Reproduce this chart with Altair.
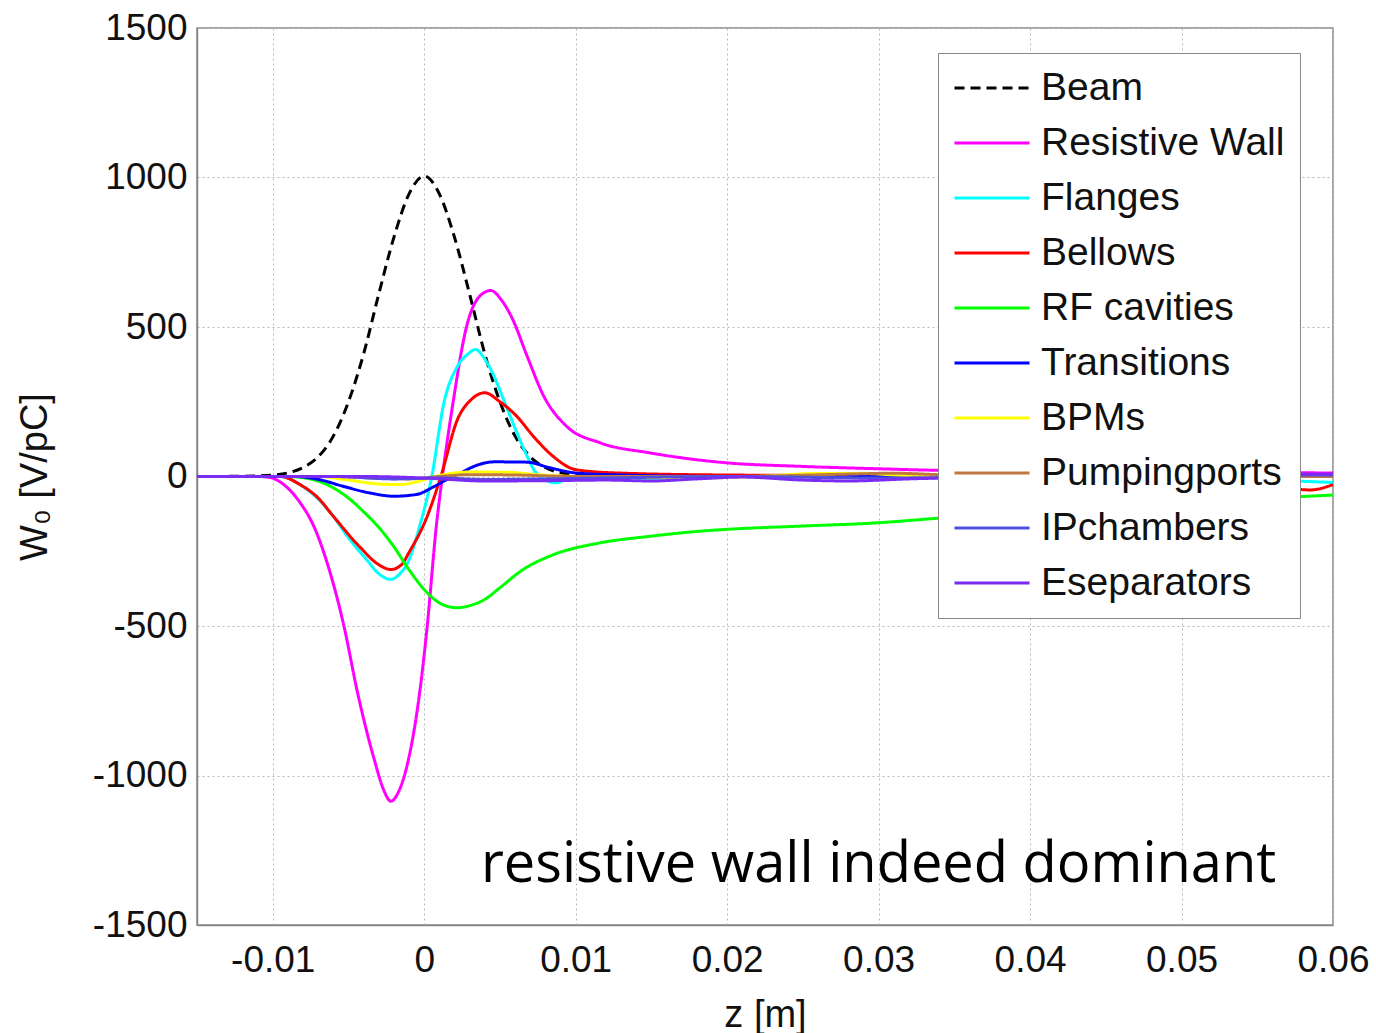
import altair as alt
import pandas as pd

series = ["Beam", "Resistive Wall", "Flanges", "Bellows", "RF cavities",
          "Transitions", "BPMs", "Pumpingports", "IPchambers", "Eseparators"]
colors = ["#000000", "#ff00ff", "#00ffff", "#ff0000", "#00ff00",
          "#0000ff", "#ffff00", "#c07840", "#5050e0", "#7a2cf5"]
dashes = [[10, 6], [1, 0], [1, 0], [1, 0], [1, 0], [1, 0], [1, 0], [1, 0], [1, 0], [1, 0]]

beam_z = [-0.015, -0.012, -0.010, -0.009, -0.008, -0.007, -0.006, -0.005, -0.004, -0.003, -0.002, -0.001,
          0.0, 0.001, 0.002, 0.003, 0.004, 0.005, 0.006, 0.007, 0.008, 0.009, 0.010, 0.012, 0.015, 0.06]
beam_w = [0, 1, 5, 12, 30, 66, 135, 250, 410, 610, 800, 945,
          1005, 945, 800, 610, 410, 250, 135, 66, 30, 12, 5, 1, 0, 0]

rw_z = [-0.015, -0.011, -0.0102, -0.0092, -0.0082, -0.0073, -0.0064, -0.0053, -0.0044, -0.0033, -0.0027,
        -0.0022, -0.0017, -0.0011, -0.0003, 0.0002, 0.0008, 0.0012, 0.0019, 0.0028, 0.0037, 0.0044, 0.0051,
        0.0058, 0.0068, 0.0079, 0.0094, 0.0116, 0.0149, 0.0199, 0.0248, 0.0299, 0.0336, 0.045, 0.06]
rw_w = [0, 0, -3, -30, -87, -165, -290, -500, -723, -946, -1045,
        -1086, -1055, -960, -723, -500, -166, 0, 246, 502, 605, 622, 590,
        530, 402, 268, 168, 113, 79, 46, 34, 26, 21, 15, 12]

fl_z = [-0.015, -0.0095, -0.0082, -0.007, -0.006, -0.005, -0.0038, -0.003, -0.0022, -0.0016, -0.0011,
        -0.0003, 0.0005, 0.0013, 0.0022, 0.0029, 0.0034, 0.0039, 0.0044, 0.0055, 0.0066, 0.0074, 0.0087,
        0.0098, 0.012, 0.015, 0.02, 0.03, 0.05, 0.06]
fl_w = [0, 0, -27, -75, -133, -205, -278, -325, -344, -325, -290,
        -166, 0, 246, 369, 410, 425, 400, 358, 224, 90, 12, -21,
        0, 3, -8, 0, 0, -5, -20]

be_z = [-0.015, -0.0095, -0.0082, -0.007, -0.006, -0.0043, -0.003, -0.0022, -0.0015, -0.001, 0.0002,
        0.0011, 0.0022, 0.0031, 0.004, 0.005, 0.0061, 0.0072, 0.0085, 0.010, 0.0126, 0.02, 0.03, 0.05,
        0.056, 0.0585, 0.06]
be_w = [0, 0, -27, -72, -133, -233, -295, -311, -295, -254, -133,
        0, 191, 257, 280, 250, 202, 135, 68, 23, 12, 5, 3, -5,
        -30, -45, -27]

rf_z = [-0.015, -0.009, -0.008, -0.007, -0.006, -0.005, -0.004, -0.003, -0.002, -0.001, 0.0002, 0.0012,
        0.0022, 0.003, 0.004, 0.005, 0.0065, 0.0083, 0.0116, 0.0149, 0.0182, 0.0199, 0.0248, 0.0299,
        0.0338, 0.04, 0.05, 0.06]
rf_w = [0, 0, -4, -15, -38, -72, -118, -170, -235, -312, -389, -428,
        -439, -432, -411, -372, -312, -266, -222, -200, -183, -177, -166, -155,
        -140, -118, -88, -62]

tr_z = [-0.015, -0.0085, -0.0068, -0.0054, -0.0036, -0.002, -0.0005, 0.0006, 0.0015, 0.0024, 0.0035,
        0.0046, 0.0068, 0.0083, 0.010, 0.013, 0.02, 0.06]
tr_w = [0, 0, -12, -32, -55, -66, -60, -35, -10, 12, 38,
        49, 48, 29, 12, 5, 0, 0]

bpm_z = [-0.015, -0.007, -0.005, -0.003, -0.0016, -0.0005, 0.0005, 0.0015, 0.003, 0.0055, 0.0075, 0.010,
         0.018, 0.022, 0.026, 0.029, 0.032, 0.04, 0.06]
bpm_w = [0, 0, -12, -25, -27, -18, -3, 8, 15, 14, 6, 0,
         -5, 0, 10, 10, 3, 0, 0]

pp_z = [-0.015, -0.006, -0.003, -0.001, 0.001, 0.003, 0.006, 0.010, 0.02, 0.028, 0.031, 0.034, 0.04, 0.06]
pp_w = [0, 0, -6, -8, 0, 6, 5, 0, 0, 8, 11, 6, 0, 0]

ip_z = [-0.015, -0.006, -0.002, 0.001, 0.004, 0.008, 0.012, 0.02, 0.03, 0.04, 0.06]
ip_w = [0, 0, -8, -5, -10, -8, -5, 0, -5, 0, 5]

es_z = [-0.015, -0.004, 0.0, 0.004, 0.008, 0.012, 0.015, 0.018, 0.021, 0.025, 0.028, 0.032, 0.04, 0.06]
es_w = [0, 0, -5, -15, -14, -12, -15, -8, -2, -12, -15, -8, 0, 8]

all_z = [beam_z, rw_z, fl_z, be_z, rf_z, tr_z, bpm_z, pp_z, ip_z, es_z]
all_w = [beam_w, rw_w, fl_w, be_w, rf_w, tr_w, bpm_w, pp_w, ip_w, es_w]

x_ticks = [-0.01, 0.0, 0.01, 0.02, 0.03, 0.04, 0.05, 0.06]
y_ticks = [-1500, -1000, -500, 0, 500, 1000, 1500]

note_text = ["resistive wall indeed dominant"]
note_z = [0.03]
note_w = [-1298]

rows = []
for i, (name, zs, ws) in enumerate(zip(series, all_z, all_w)):
    for z, w in zip(zs, ws):
        rows.append({"series": name, "z": z, "w": w, "k": i})
df = pd.DataFrame(rows)

legend = alt.Legend(
    title=None, orient="none", legendX=741, legendY=25,
    symbolType="stroke", symbolSize=5625, symbolStrokeWidth=3,
    labelFont="Liberation Sans", labelFontSize=39, labelColor="#111111", labelLimit=500,
    labelOffset=10, rowPadding=15, padding=15, clipHeight=40,
    fillColor="white", strokeColor="#888888",
)

lines = alt.Chart(df).mark_line(strokeWidth=3, interpolate="monotone", clip=True).encode(
    x=alt.X("z:Q", scale=alt.Scale(domain=[-0.015, 0.06], nice=False, zero=False),
            axis=alt.Axis(values=x_ticks, labelExpr="'' + datum.value", title="z [m]",
                          labelFlush=False, labelPadding=17, titlePadding=18)),
    y=alt.Y("w:Q", scale=alt.Scale(domain=[-1500, 1500], nice=False),
            axis=alt.Axis(values=y_ticks, labelExpr="'' + datum.value", title="W₀ [V/pC]",
                          labelFlush=False, labelPadding=10, titlePadding=38)),
    color=alt.Color("series:N", scale=alt.Scale(domain=series, range=colors), legend=legend),
    strokeDash=alt.StrokeDash("series:N", scale=alt.Scale(domain=series, range=dashes), legend=legend),
    order=alt.Order("k:Q"),
)

note_df = pd.DataFrame({"label": note_text, "z": note_z, "w": note_w})
note = alt.Chart(note_df).mark_text(font="Open Sans", fontSize=56, color="#000000",
                                    align="center", baseline="middle").encode(
    x="z:Q", y="w:Q", text="label:N")

chart = alt.layer(lines, note).properties(
    width=1136, height=897,
    background="white",
    autosize=alt.AutoSizeParams(type="none"),
    padding={"left": 197, "top": 28, "right": 43, "bottom": 108},
).configure_view(stroke="#888888", strokeWidth=1.5).configure_axis(
    domainColor="#888888", domainWidth=1.5, ticks=False,
    grid=True, gridColor="#b8b8b8", gridDash=[2, 3], gridWidth=1,
    labelFont="Liberation Sans", labelFontSize=37, labelColor="#111111",
    titleFont="Liberation Sans", titleFontSize=38, titleColor="#111111", titleFontWeight="normal",
)

chart.save("out.html", embed_options={"renderer": "svg", "actions": False})
